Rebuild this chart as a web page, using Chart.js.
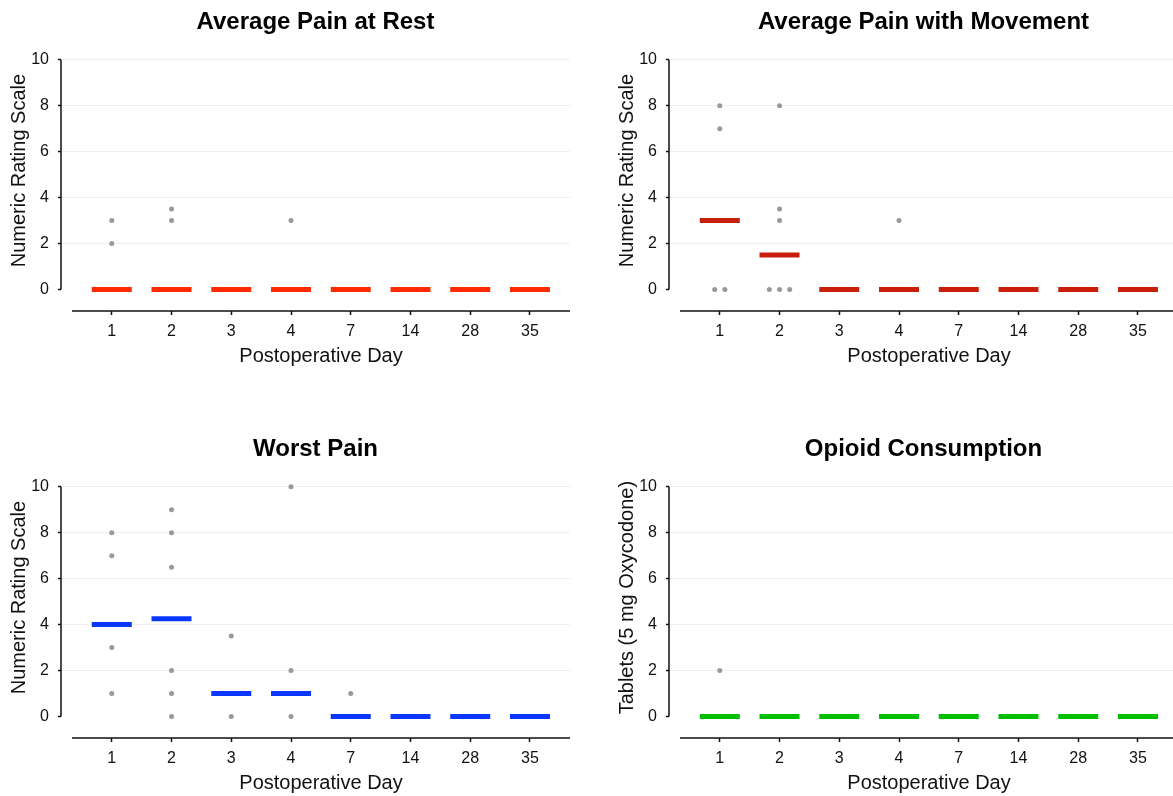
<!DOCTYPE html>
<html lang="en">
<head>
<meta charset="UTF-8">
<title>Postoperative Pain and Opioid Consumption</title>
<script src="https://cdn.jsdelivr.net/npm/chart.js@4"></script>
<style>
  body { margin: 0; width: 1173px; height: 796px; overflow: hidden; background: #fff; position: relative; }
  canvas { position: absolute; }
</style>
</head>
<body>
<canvas id="rest" width="595" height="370" style="left:0;top:0"></canvas>
<canvas id="movement" width="595" height="370" style="left:608px;top:0"></canvas>
<canvas id="worst" width="595" height="370" style="left:0;top:427px"></canvas>
<canvas id="opioid" width="595" height="370" style="left:608px;top:427px"></canvas>
<script>
const days = ['1', '2', '3', '4', '7', '14', '28', '35'];
const yTicks = [0, 2, 4, 6, 8, 10];

// medians per day, and individual patient values per day (visible ones)
const restMedian = [0, 0, 0, 0, 0, 0, 0, 0];
const restPoints = [[3, 2], [3.5, 3], [], [3], [], [], [], []];

const movementMedian = [3, 1.5, 0, 0, 0, 0, 0, 0];
const movementPoints = [[8, 7, 0, 0], [8, 3.5, 3, 0, 0, 0], [], [3], [], [], [], []];

const worstMedian = [4, 4.25, 1, 1, 0, 0, 0, 0];
const worstPoints = [[8, 7, 3, 1], [9, 8, 6.5, 2, 1, 0], [3.5, 0], [10, 2, 0], [1], [], [], []];

const opioidMedian = [0, 0, 0, 0, 0, 0, 0, 0];
const opioidPoints = [[2], [], [], [], [], [], [], []];

const FONT = '"Liberation Sans", Arial, sans-serif';
Chart.defaults.font.family = FONT;
Chart.defaults.color = '#111';

// values that tie on the same day are spread out a little, like a dot plot
function spread(points) {
    const out = [];
    points.forEach((vals, day) => {
        const counts = {};
        vals.forEach(v => counts[v] = (counts[v] || 0) + 1);
        const seen = {};
        vals.forEach(v => {
            const k = seen[v] || 0;
            seen[v] = k + 1;
            out.push({ x: day + (k - (counts[v] - 1) / 2) * 0.17, y: v });
        });
    });
    return out;
}

// offset axis lines (y stops at 0, x starts a bit right of y) and the axis titles
const axesPlugin = {
    id: 'axes',
    beforeDatasetsDraw(chart, args, opts) {
        const { ctx, chartArea, scales: { y } } = chart;
        const xStart = chartArea.left + 11;
        ctx.save();
        ctx.strokeStyle = '#111';
        ctx.lineWidth = 1.5;
        ctx.beginPath();
        ctx.moveTo(chartArea.left, y.getPixelForValue(yTicks[yTicks.length - 1]));
        ctx.lineTo(chartArea.left, y.getPixelForValue(yTicks[0]));
        ctx.moveTo(xStart, chartArea.bottom);
        ctx.lineTo(chartArea.right, chartArea.bottom);
        ctx.stroke();

        ctx.font = '20px ' + FONT;
        ctx.textAlign = 'center';
        ctx.textBaseline = 'middle';
        ctx.fillStyle = '#111';
        ctx.fillText(opts.xText, (xStart + chartArea.right) / 2, chartArea.bottom + 45);

        const mid = (y.getPixelForValue(yTicks[0]) + y.getPixelForValue(yTicks[yTicks.length - 1])) / 2;
        ctx.translate(19.5, mid - 4);
        ctx.rotate(-Math.PI / 2);
        ctx.fillText(opts.yText, 0, 0);
        ctx.restore();
    }
};

function makeChart(id, title, yTitle, medians, points, color) {
    const ctx = document.getElementById(id).getContext('2d');
    new Chart(ctx, {
        type: 'scatter',
        data: {
            datasets: [{
                data: medians.map((m, i) => ({ x: i, y: m })),
                pointStyle: 'line',
                pointRadius: 20,
                pointHoverRadius: 20,
                borderWidth: 5,
                borderColor: color,
                backgroundColor: color,
                clip: false
            }, {
                data: spread(points),
                pointRadius: 2.5,
                pointHoverRadius: 2.5,
                borderWidth: 0,
                backgroundColor: '#999999',
                clip: false
            }]
        },
        options: {
            responsive: false,
            animation: false,
            events: [],
            layout: { padding: { left: 0, right: 8, top: 0, bottom: 0 } },
            plugins: {
                legend: { display: false },
                tooltip: { enabled: false },
                title: {
                    display: true,
                    text: title,
                    fullSize: false,
                    color: '#000',
                    font: { size: 24, weight: 'bold' },
                    padding: { top: 8, bottom: 23 }
                },
                axes: { xText: 'Postoperative Day', yText: yTitle }
            },
            scales: {
                x: {
                    type: 'linear',
                    min: -0.85,
                    max: 7.67,
                    afterBuildTicks: axis => { axis.ticks = days.map((d, i) => ({ value: i })); },
                    afterFit: axis => { axis.height = 59; },
                    border: { display: false },
                    grid: {
                        drawOnChartArea: false,
                        drawTicks: true,
                        tickLength: 4,
                        tickColor: '#111',
                        tickWidth: 1.5
                    },
                    ticks: {
                        autoSkip: false,
                        maxRotation: 0,
                        padding: 7,
                        font: { size: 16 },
                        callback: v => days[v]
                    }
                },
                y: {
                    min: -0.94,
                    max: 10,
                    afterBuildTicks: axis => { axis.ticks = yTicks.map(v => ({ value: v })); },
                    afterFit: axis => { axis.width = 61; },
                    border: { display: false },
                    grid: {
                        color: c => (c.tick && c.tick.value === 0) ? 'rgba(0,0,0,0)' : '#efefef',
                        lineWidth: 1,
                        drawTicks: true,
                        tickLength: 3,
                        tickColor: '#111',
                        tickWidth: 1.5
                    },
                    ticks: { padding: 9, font: { size: 16 } }
                }
            }
        },
        plugins: [axesPlugin]
    });
}

makeChart('rest', 'Average Pain at Rest', 'Numeric Rating Scale', restMedian, restPoints, '#ff2a00');
makeChart('movement', 'Average Pain with Movement', 'Numeric Rating Scale', movementMedian, movementPoints, '#c81e0a');
makeChart('worst', 'Worst Pain', 'Numeric Rating Scale', worstMedian, worstPoints, '#0a37ff');
makeChart('opioid', 'Opioid Consumption', 'Tablets (5 mg Oxycodone)', opioidMedian, opioidPoints, '#00c000');
</script>
</body>
</html>
